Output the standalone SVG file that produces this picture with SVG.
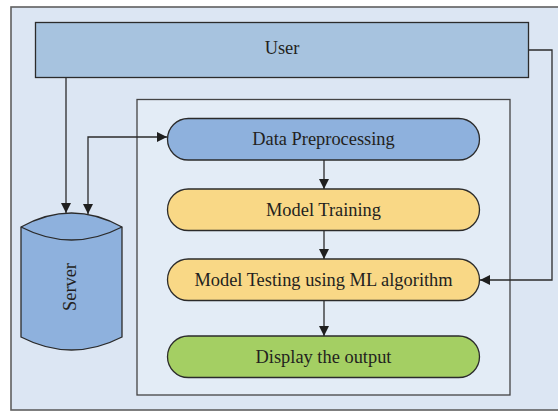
<svg xmlns="http://www.w3.org/2000/svg" width="558" height="411" viewBox="0 0 558 411">
<style>
.lbl{font-family:"Liberation Serif","Times New Roman",serif;font-size:18.4px;fill:#231f20;text-anchor:middle}
.box{stroke:#2b2b2b;stroke-width:1.3}
.pill{stroke:#2b2b2b;stroke-width:1.3}
.conn{fill:none;stroke:#2b2b2b;stroke-width:1.3}
</style>
<defs>
<marker id="ah" viewBox="0 0 10 10" refX="10" refY="5" markerWidth="10" markerHeight="10" markerUnits="userSpaceOnUse" orient="auto-start-reverse">
<path d="M0,0 L10,5 L0,10 Z" fill="#1f1f1f"/>
</marker>
</defs>
<rect x="0" y="0" width="558" height="411" fill="#ffffff"/>
<g id="frame">
<rect x="11" y="7" width="560" height="403" fill="#dce6f3" stroke="#5f5f5f" stroke-width="1.6"/>
</g>
<g id="container">
<rect x="137" y="99.5" width="373" height="295.5" fill="#e3ecf6" stroke="#444" stroke-width="1.3"/>
</g>
<g id="user">
<rect class="box" x="35.5" y="22.5" width="493" height="55" fill="#a7c3df"/>
<text class="lbl" x="282" y="54">User</text>
</g>
<g id="server">
<path d="M21,227 Q71.5,199 122,227 L122,337 Q71.5,363 21,337 Z" fill="#8eb1dd" stroke="#2b2b2b" stroke-width="1.3"/>
<path d="M21,227 Q71.5,253 122,227" fill="none" stroke="#2b2b2b" stroke-width="1.3"/>
<text class="lbl" transform="translate(76,287) rotate(-90)">Server</text>
</g>
<g id="data-preprocessing">
<rect class="pill" x="167.5" y="118.5" width="312" height="41.5" rx="20.75" fill="#8eb1dd"/>
<text class="lbl" x="323.5" y="145">Data Preprocessing</text>
</g>
<g id="model-training">
<rect class="pill" x="167.5" y="189" width="312" height="41.5" rx="20.75" fill="#f9d886"/>
<text class="lbl" x="323.5" y="215.5">Model Training</text>
</g>
<g id="model-testing">
<rect class="pill" x="167.5" y="259" width="312" height="41.5" rx="20.75" fill="#f9d886"/>
<text class="lbl" x="323.5" y="285.5">Model Testing using ML algorithm</text>
</g>
<g id="display-output">
<rect class="pill" x="167.5" y="336" width="312" height="41.5" rx="20.75" fill="#a4cf63"/>
<text class="lbl" x="323.5" y="362.5">Display the output</text>
</g>
<g id="connectors">
<path class="conn" d="M66,77.5 V213" marker-end="url(#ah)"/>
<path class="conn" d="M88,214 V137 H167" marker-start="url(#ah)" marker-end="url(#ah)"/>
<path class="conn" d="M528.5,50 H552 V280 H480" marker-end="url(#ah)"/>
<path class="conn" d="M324,160 V189" marker-end="url(#ah)"/>
<path class="conn" d="M324,230.5 V259" marker-end="url(#ah)"/>
<path class="conn" d="M324,300.5 V336" marker-end="url(#ah)"/>
</g>
</svg>
